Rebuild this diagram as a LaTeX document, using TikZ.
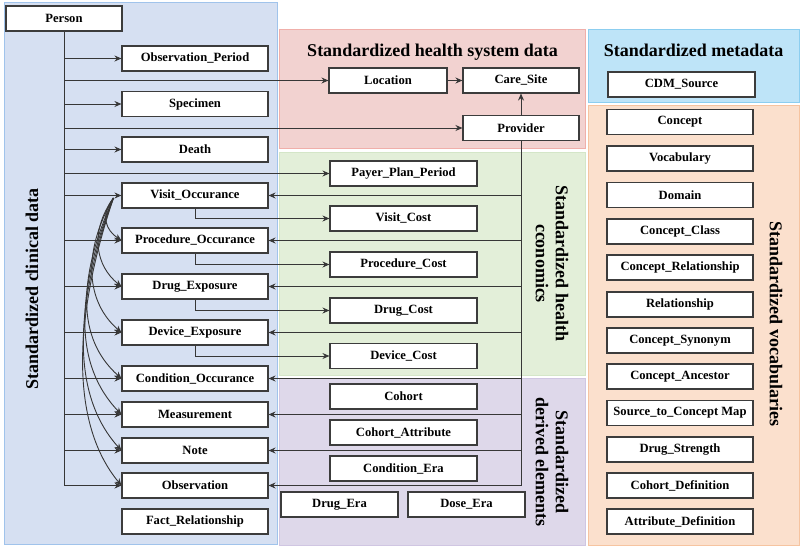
\documentclass[tikz,border=0pt]{standalone}
\usepackage{fontspec}
\setmainfont{Liberation Serif}
\usetikzlibrary{arrows.meta,calc}
\definecolor{clinfill}{RGB}{214,224,242}
\definecolor{clindraw}{RGB}{160,195,235}
\definecolor{hsfill}{RGB}{242,210,208}
\definecolor{hsdraw}{RGB}{240,175,170}
\definecolor{ecfill}{RGB}{227,239,217}
\definecolor{ecdraw}{RGB}{212,230,200}
\definecolor{dvfill}{RGB}{222,216,234}
\definecolor{dvdraw}{RGB}{208,198,226}
\definecolor{mdfill}{RGB}{190,228,248}
\definecolor{mddraw}{RGB}{140,206,240}
\definecolor{vcfill}{RGB}{251,224,205}
\definecolor{vcdraw}{RGB}{246,196,160}
\definecolor{boxline}{RGB}{60,60,60}
\definecolor{lineclr}{RGB}{55,55,55}
\begin{document}
\begin{tikzpicture}[x=1pt,y=-1pt,
  box/.style={draw=boxline, fill=white, line width=1.1pt, minimum height=25pt, inner sep=0pt,
    font=\fontsize{12.6}{14}\selectfont\bfseries, anchor=center},
  cbox/.style={box, minimum width=146pt},
  mbox/.style={box, minimum width=147pt},
  conn/.style={draw=lineclr, line width=0.9pt, -{Stealth[length=7pt,width=6pt]}},
  plain/.style={draw=lineclr, line width=0.9pt},
  ttl/.style={font=\fontsize{18}{20}\selectfont\bfseries, align=center, inner sep=0pt},
  panel/.style={line width=0.8pt}]
\useasboundingbox (0,0) rectangle (800,549);
% panels
\filldraw[panel, fill=clinfill, draw=clindraw] (4,2) rectangle (277,544);
\filldraw[panel, fill=hsfill, draw=hsdraw] (279,29) rectangle (585,148);
\filldraw[panel, fill=ecfill, draw=ecdraw] (279,152) rectangle (585,375);
\filldraw[panel, fill=dvfill, draw=dvdraw] (279,378) rectangle (585,545);
\filldraw[panel, fill=mdfill, draw=mddraw] (588,29) rectangle (799,102);
\filldraw[panel, fill=vcfill, draw=vcdraw] (588,105) rectangle (799,545);
% titles
\node[ttl, anchor=base] (thsd) at (432.5,56) {Standardized health system data};
\node[ttl, anchor=base] (tmd) at (693.5,56) {Standardized metadata};
\node[ttl, rotate=90] (tcd) at (32,289) {Standardized clinical data};
\node[ttl, rotate=-90] (tec) at (552,263.5) {Standardized health\\cconomics};
\node[ttl, rotate=-90] (tdv) at (552,462) {Standardized\\derived elements};
\node[ttl, rotate=-90] (tvc) at (776,324) {Standardized vocabularies};
% clinical boxes
\node[box, minimum width=116pt] (person) at (64,18.5) {Person};
\node[cbox] (op) at (195,58.5) {Observation\_Period};
\node[cbox] (spec) at (195,104) {Specimen};
\node[cbox] (death) at (195,149.5) {Death};
\node[cbox] (visit) at (195,195.5) {Visit\_Occurance};
\node[cbox] (proc) at (195,240.5) {Procedure\_Occurance};
\node[cbox] (drugx) at (195,286.5) {Drug\_Exposure};
\node[cbox] (devx) at (195,332.5) {Device\_Exposure};
\node[cbox] (cond) at (195,378.5) {Condition\_Occurance};
\node[cbox] (meas) at (195,414.5) {Measurement};
\node[cbox] (note) at (195,450.5) {Note};
\node[cbox] (obs) at (195,485.5) {Observation};
\node[cbox] (fact) at (195,521.5) {Fact\_Relationship};
% health system
\node[box, minimum width=118pt] (loc) at (388,80.5) {Location};
\node[box, minimum width=116pt] (care) at (521,80.5) {Care\_Site};
\node[box, minimum width=116pt] (prov) at (521,128) {Provider};
% economics
\node[mbox] (payer) at (403.5,173.5) {Payer\_Plan\_Period};
\node[mbox] (vcost) at (403.5,218.5) {Visit\_Cost};
\node[mbox] (pcost) at (403.5,264.5) {Procedure\_Cost};
\node[mbox] (dcost) at (403.5,310.5) {Drug\_Cost};
\node[mbox] (devcost) at (403.5,356) {Device\_Cost};
% derived
\node[mbox] (cohort) at (403.5,396.5) {Cohort};
\node[mbox] (cattr) at (403.5,432.5) {Cohort\_Attribute};
\node[mbox] (cera) at (403.5,468.5) {Condition\_Era};
\node[box, minimum width=117pt] (drugera) at (339.5,504.5) {Drug\_Era};
\node[box, minimum width=117pt] (doseera) at (466.5,504.5) {Dose\_Era};
% metadata and vocabularies
\node[mbox] (cdm) at (681.5,84.5) {CDM\_Source};
\node[cbox] (concept) at (680,122) {Concept};
\node[cbox] (vocab) at (680,158.5) {Vocabulary};
\node[cbox] (domain) at (680,195) {Domain};
\node[cbox] (cclass) at (680,231.5) {Concept\_Class};
\node[cbox] (crel) at (680,267.5) {Concept\_Relationship};
\node[cbox] (rel) at (680,304.5) {Relationship};
\node[cbox] (csyn) at (680,340.5) {Concept\_Synonym};
\node[cbox] (canc) at (680,376.5) {Concept\_Ancestor};
\node[cbox] (stcm) at (680,413) {Source\_to\_Concept Map};
\node[cbox] (dstr) at (680,449.5) {Drug\_Strength};
\node[cbox] (cdef) at (680,485.5) {Cohort\_Definition};
\node[cbox] (adef) at (680,521.5) {Attribute\_Definition};
% person trunk
\draw[conn] (person.south) |- (obs.west);
\foreach \t in {op,spec,death,visit,proc,drugx,devx,cond,meas,note}
  \draw[conn] (person.south |- \t.west) -- (\t.west);
\draw[conn] (person.south |- loc.west) -- (loc.west);
\draw[conn] (person.south |- prov.west) -- (prov.west);
\draw[conn] (person.south |- payer.west) -- (payer.west);
% health system
\draw[conn] (loc.east) -- (care.west);
\draw[conn] (prov.north) -- (care.south);
\draw[conn] (prov.south) |- (obs.east);
\foreach \t in {visit,proc,drugx,devx,cond,meas,note}
  \draw[conn] (prov.south |- \t.east) -- (\t.east);
% costs
\draw[conn] (visit.south) |- (vcost.west);
\draw[conn] (proc.south) |- (pcost.west);
\draw[conn] (drugx.south) |- (dcost.west);
\draw[conn] (devx.south) |- (devcost.west);
% curves from visit
\coordinate (vs) at ($(visit.west)+(-8,2.5)$);
\draw[conn] (vs) .. controls +(-14,18) and +(-15,-10) .. (proc.west);
\draw[conn] (vs) .. controls +(-25,35) and +(-25,-20) .. (drugx.west);
\draw[conn] (vs) .. controls +(-32,55) and +(-35,-30) .. (devx.west);
\draw[conn] (vs) .. controls +(-36,80) and +(-45,-40) .. (cond.west);
\draw[conn] (vs) .. controls +(-38,95) and +(-48,-50) .. (meas.west);
\draw[conn] (vs) .. controls +(-40,110) and +(-50,-55) .. (note.west);
\draw[conn] (vs) .. controls +(-42,125) and +(-50,-60) .. (obs.west);
\end{tikzpicture}
\end{document}
